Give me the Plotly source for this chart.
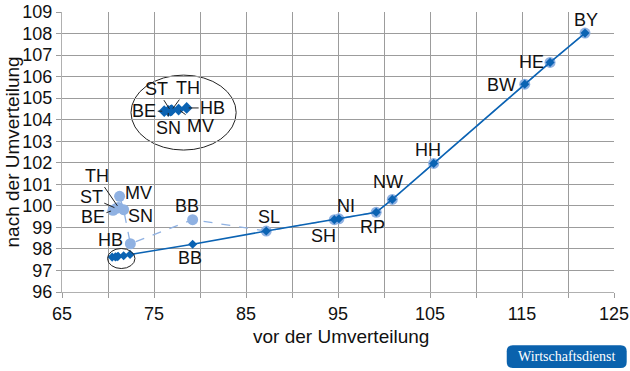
import plotly.graph_objects as go

# ---- data ----
states = ["BE", "SN", "ST", "TH", "MV", "HB", "BB", "SL", "SH", "NI", "RP", "NW", "HH", "BW", "HE", "BY"]
x_vor = [70.45, 70.8, 71.0, 71.1, 71.7, 72.4, 79.2, 87.2, 94.6, 95.1, 99.15, 100.9, 105.4, 115.3, 118.05, 121.85]
y_nach_dark = [97.62, 97.63, 97.64, 97.66, 97.68, 97.74, 98.22, 98.83, 99.36, 99.4, 99.7, 100.3, 101.97, 105.65, 106.66, 108.02]

light_states = ["BE", "ST", "TH", "MV", "SN", "HB", "BB", "SL", "SH", "NI", "RP", "NW", "HH", "BW", "HE", "BY"]
x_light = [70.54, 70.9, 71.15, 71.26, 71.7, 72.43, 79.2, 87.2, 94.6, 95.1, 99.15, 100.9, 105.4, 115.3, 118.05, 121.85]
y_light = [99.79, 99.88, 99.92, 100.44, 99.82, 98.24, 99.36, 98.83, 99.36, 99.4, 99.7, 100.3, 101.97, 105.65, 106.66, 108.02]

x_ticks = [65, 75, 85, 95, 105, 115, 125]
y_ticks = list(range(96, 110))

DARK = "#0b63b3"
LIGHT = "#8fb1e2"
GRID = "#9c9c9c"
FONT = "Liberation Sans, Arial, sans-serif"

fig = go.Figure()

# light series (dashed, circles)
fig.add_trace(go.Scatter(
    x=x_light, y=y_light, mode="lines+markers",
    line=dict(color=LIGHT, width=1.3, dash="dash"),
    marker=dict(symbol="circle", size=11, color=LIGHT),
    hoverinfo="skip", showlegend=False, cliponaxis=False))

# dark series (solid, diamonds)
fig.add_trace(go.Scatter(
    x=x_vor, y=y_nach_dark, mode="lines+markers",
    line=dict(color=DARK, width=1.6),
    marker=dict(symbol="diamond", size=7, color=DARK),
    hoverinfo="skip", showlegend=False, cliponaxis=False))

# inset (magnified cluster of the eastern states)
east = states[:6]
ex = x_vor[:6]
ey = y_nach_dark[:6]
MAG = 1.25
cx_src, cy_src = 71.4, 97.66
cx_dst, cy_dst = 77.3, 104.445
ix = [cx_dst + (v - cx_src) * MAG for v in ex]
iy = [cy_dst + (v - cy_src) * MAG for v in ey]
fig.add_trace(go.Scatter(
    x=ix, y=iy, mode="lines+markers",
    line=dict(color=DARK, width=2.5),
    marker=dict(symbol="diamond", size=9, color=DARK),
    hoverinfo="skip", showlegend=False))

annotations = []
LABEL_SIZE = 18

def lab(x, y, text, dx, dy, arrow=False):
    if arrow:
        annotations.append(dict(x=x, y=y, xref="x", yref="y", text=text, showarrow=True,
                                ax=dx, ay=-dy, arrowhead=0, arrowwidth=1, arrowcolor="#222",
                                standoff=2, font=dict(family=FONT, size=LABEL_SIZE, color="#111")))
    else:
        annotations.append(dict(x=x, y=y, xref="x", yref="y", text=text, showarrow=False,
                                xshift=dx, yshift=dy, font=dict(family=FONT, size=LABEL_SIZE, color="#111")))

dark_idx = {s: i for i, s in enumerate(states)}
light_idx = {s: i for i, s in enumerate(light_states)}

dark_off = {"BY": (1, 13), "HE": (-19, 0), "BW": (-23, -1), "HH": (-6, 13), "NW": (-4, 17),
            "RP": (-4, -15), "NI": (7, 13), "SH": (-11, -16), "SL": (3, 14), "BB": (-3, -14)}
for s, (dx, dy) in dark_off.items():
    i = dark_idx[s]
    lab(x_vor[i], y_nach_dark[i], s, dx, dy)

light_off = {"BB": (-6, 14), "HB": (-20, 4), "SN": (17, -6), "MV": (19, 3)}
for s, (dx, dy) in light_off.items():
    i = light_idx[s]
    lab(x_light[i], y_light[i], s, dx, dy)

light_arrow = {"BE": (-20, -7), "ST": (-25, 11), "TH": (-22, 32)}
for s, (dx, dy) in light_arrow.items():
    i = light_idx[s]
    lab(x_light[i], y_light[i], s, dx, dy, arrow=True)

inset_off = {"BE": (-20, 0), "ST": (-14, 22), "TH": (16, 22), "HB": (26, 0), "SN": (0, -17), "MV": (22, -16)}
for s, (dx, dy) in inset_off.items():
    i = east.index(s)
    lab(ix[i], iy[i], s, dx, dy, arrow=True)

# axis titles
annotations.append(dict(x=0.506, y=-0.158, xref="paper", yref="paper", text="vor der Umverteilung",
                        showarrow=False, xanchor="center", yanchor="middle",
                        font=dict(family=FONT, size=19, color="#111")))
annotations.append(dict(x=-0.09, y=0.4995, xref="paper", yref="paper", text="nach der Umverteilung",
                        showarrow=False, textangle=-90, xanchor="center", yanchor="middle",
                        font=dict(family=FONT, size=19, color="#111")))
# badge text
annotations.append(dict(x=0.9144, y=-0.231, xref="paper", yref="paper", text="Wirtschaftsdienst",
                        showarrow=False, xanchor="center", yanchor="middle",
                        font=dict(family="Liberation Serif, serif", size=14, color="white")))

# badge rounded rect
x0, x1, y0, y1 = 0.8057, 1.023, -0.2717, -0.1906
rx, ry = 6 / 552.3, 6 / 279.7
path = (f"M {x0+rx},{y0} L {x1-rx},{y0} Q {x1},{y0} {x1},{y0+ry} L {x1},{y1-ry} "
        f"Q {x1},{y1} {x1-rx},{y1} L {x0+rx},{y1} Q {x0},{y1} {x0},{y1-ry} "
        f"L {x0},{y0+ry} Q {x0},{y0} {x0+rx},{y0} Z")

shapes = [
    dict(type="path", xref="paper", yref="paper", path=path, fillcolor="#0a62ad", line=dict(width=0)),
    # inset ellipse
    dict(type="circle", xref="x", yref="y", x0=72.5, x1=83.93, y0=102.59, y1=106.07,
         line=dict(color="#222", width=1), fillcolor="rgba(255,255,255,1)", layer="below"),
    # small ellipse around cluster
    dict(type="circle", xref="x", yref="y", x0=69.95, x1=72.93, y0=97.09, y1=98.02,
         line=dict(color="#222", width=1)),
]

fig.update_layout(
    width=630, height=371,
    margin=dict(l=62, r=16, t=12, b=79, autoexpand=False),
    paper_bgcolor="white", plot_bgcolor="white",
    annotations=annotations, shapes=shapes,
    xaxis=dict(range=[65, 125], tickvals=x_ticks, ticktext=[str(v) for v in x_ticks],
               automargin=False,
               ticks="outside", ticklen=5, tickcolor=GRID, showgrid=True, gridcolor=GRID,
               gridwidth=1, showline=True, linecolor="#b0b0b0", zeroline=False,
               tickfont=dict(family=FONT, size=18, color="#111"),
               minor=dict(tickvals=[70, 80, 90, 100, 110, 120], ticks="outside", ticklen=5,
                          tickcolor=GRID, showgrid=True, gridcolor=GRID, gridwidth=1)),
    yaxis=dict(range=[96, 109], tickvals=y_ticks, ticks="outside", ticklen=5, tickcolor=GRID,
               automargin=False,
               showgrid=True, gridcolor=GRID, gridwidth=1, showline=True, linecolor="#b0b0b0",
               zeroline=False, tickfont=dict(family=FONT, size=18, color="#111")),
)

fig.write_html("out.html", config={"displayModeBar": False},
               post_script="document.body.style.margin='0';document.body.style.padding='0';")
